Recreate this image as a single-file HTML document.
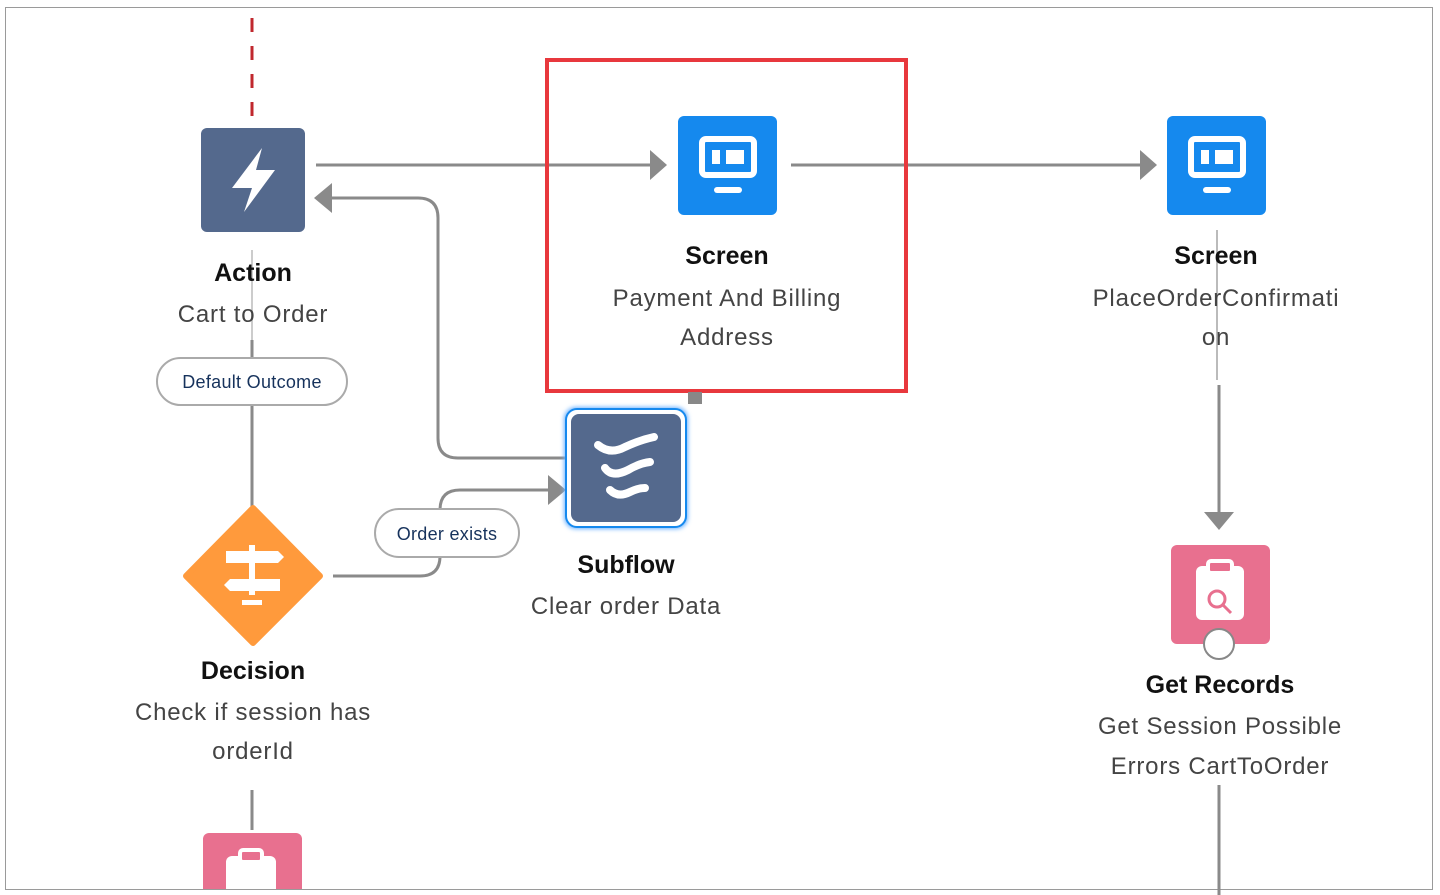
<!DOCTYPE html>
<html><head><meta charset="utf-8"><style>
html,body{margin:0;padding:0;background:#fff;width:1440px;height:895px;overflow:hidden}
svg{display:block}
text{font-family:"Liberation Sans",sans-serif;text-anchor:middle}
.t{font-weight:bold;font-size:25px;fill:#111}
.s{font-size:24px;fill:#444;letter-spacing:0.8px}
.p{font-size:18px;fill:#16325c;letter-spacing:0.3px}
</style></head><body>
<svg width="1440" height="895" viewBox="0 0 1440 895">
<rect x="5.5" y="7.5" width="1427" height="882" fill="#fff" stroke="#9a9a9a" stroke-width="1"/>
<defs>
<filter id="glow"><feGaussianBlur stdDeviation="2"/></filter>
</defs>
<line x1="252" y1="18" x2="252" y2="122" stroke="#c0282e" stroke-width="3" stroke-dasharray="14,14"/>
<g stroke="#8a8a8a" stroke-width="3" fill="none">
<path d="M316 165 H650"/>
<path d="M791 165 H1140"/>
<path d="M252 340 V357 M252 405 V510"/>
<path d="M252 790 V830"/>
<path d="M333 576 H420 Q440 576 440 556 V510 Q440 490 460 490 H548"/>
<path d="M565 458 H458 Q438 458 438 438 V218 Q438 198 418 198 H332"/>
<path d="M1219 385 V512"/>
<path d="M1219 785 V895"/>
</g>
<line x1="252" y1="250" x2="252" y2="340" stroke="#ccc" stroke-width="2"/>
<line x1="1217" y1="230" x2="1217" y2="380" stroke="#bbb" stroke-width="2"/>
<path d="M650 150 L667 165 L650 180z" fill="#8a8a8a"/>
<path d="M1140 150 L1157 165 L1140 180z" fill="#8a8a8a"/>
<path d="M332 183 L314 198 L332 213z" fill="#8a8a8a"/>
<path d="M548 475 L566 490 L548 505z" fill="#8a8a8a"/>
<path d="M1204 512 L1219 530 L1234 512z" fill="#8a8a8a"/>
<rect x="547" y="60" width="359" height="331" fill="none" stroke="#e8383d" stroke-width="4"/>
<rect x="688" y="392" width="14" height="12" fill="#888"/>
<rect x="201" y="128" width="104" height="104" rx="6" fill="#54698d"/>
<path d="M262 148 L232 188 H252 L244 212 L275 170 H256 Z" fill="#fff"/>
<text class="t" x="253" y="281">Action</text>
<text class="s" x="253" y="322">Cart to Order</text>
<rect x="157" y="358" width="190" height="47" rx="23.5" fill="#fff" stroke="#aaa" stroke-width="2"/>
<text class="p" x="252" y="388">Default Outcome</text>
<path d="M253 508 L320 576 L253 643 L186 576z" fill="#ff9a3c" stroke="#ff9a3c" stroke-width="6" stroke-linejoin="round"/>
<g fill="#fff"><path d="M226 551 H278 L284 557 L278 563 H226z"/><path d="M280 579 H230 L224 585 L230 591 H280z"/><rect x="249" y="545" width="6" height="50"/><path d="M242 605 H262 V600 H242z"/></g>
<text class="t" x="253" y="679">Decision</text>
<text class="s" x="253" y="720">Check if session has</text>
<text class="s" x="253" y="759">orderId</text>
<rect x="375" y="509" width="144" height="48" rx="24" fill="#fff" stroke="#aaa" stroke-width="2"/>
<text class="p" x="447" y="540">Order exists</text>
<rect x="564" y="407" width="124" height="122" rx="12" fill="#6fb4ff" filter="url(#glow)"/>
<rect x="566" y="409" width="120" height="118" rx="11" fill="#fff" stroke="#1589ee" stroke-width="2"/>
<rect x="571" y="414" width="110" height="108" rx="8" fill="#54698d"/>
<g stroke="#fff" stroke-width="8" fill="none" stroke-linecap="round"><path d="M598 445 Q610 455 625 447 Q640 440 654 437"/><path d="M605 468 Q612 478 628 470 Q640 463 650 462"/><path d="M610 490 Q618 498 630 492 Q638 488 645 488"/></g>
<text class="t" x="626" y="573">Subflow</text>
<text class="s" x="626" y="614">Clear order Data</text>
<rect x="678" y="116" width="99" height="99" rx="6" fill="#1589ee"/>
<g fill="none" stroke="#fff" stroke-width="6"><rect x="702" y="139" width="52" height="36" rx="4"/></g>
<rect x="712" y="150" width="8" height="14" fill="#fff"/><rect x="726" y="150" width="18" height="14" fill="#fff"/>
<rect x="714" y="187" width="28" height="6" rx="3" fill="#fff"/>
<text class="t" x="727" y="264">Screen</text>
<text class="s" x="727" y="306">Payment And Billing</text>
<text class="s" x="727" y="345">Address</text>
<rect x="1167" y="116" width="99" height="99" rx="6" fill="#1589ee"/>
<g fill="none" stroke="#fff" stroke-width="6"><rect x="1191" y="139" width="52" height="36" rx="4"/></g>
<rect x="1201" y="150" width="8" height="14" fill="#fff"/><rect x="1215" y="150" width="18" height="14" fill="#fff"/>
<rect x="1203" y="187" width="28" height="6" rx="3" fill="#fff"/>
<text class="t" x="1216" y="264">Screen</text>
<text class="s" x="1216" y="306">PlaceOrderConfirmati</text>
<text class="s" x="1216" y="345">on</text>
<rect x="1171" y="545" width="99" height="99" rx="6" fill="#e8708f"/>
<rect x="1196" y="566" width="48" height="54" rx="6" fill="#fff"/>
<rect x="1208" y="561" width="24" height="12" rx="3" fill="#e8708f" stroke="#fff" stroke-width="4"/>
<circle cx="1217" cy="599" r="8" fill="none" stroke="#e8708f" stroke-width="3"/>
<line x1="1223" y1="605" x2="1231" y2="613" stroke="#e8708f" stroke-width="3"/>
<circle cx="1219" cy="644" r="15" fill="#fff" stroke="#888" stroke-width="2"/>
<text class="t" x="1220" y="693">Get Records</text>
<text class="s" x="1220" y="734">Get Session Possible</text>
<text class="s" x="1220" y="774">Errors CartToOrder</text>
<rect x="203" y="833" width="99" height="80" rx="6" fill="#e8708f"/>
<rect x="226" y="856" width="50" height="40" rx="6" fill="#fff"/>
<rect x="240" y="850" width="22" height="12" rx="3" fill="#e8708f" stroke="#fff" stroke-width="4"/>
<rect x="0" y="890" width="1440" height="5" fill="#fff"/>
<line x1="5" y1="889.5" x2="1433" y2="889.5" stroke="#9a9a9a"/>
<line x1="1219" y1="889" x2="1219" y2="895" stroke="#8a8a8a" stroke-width="3"/>
</svg>
</body></html>
